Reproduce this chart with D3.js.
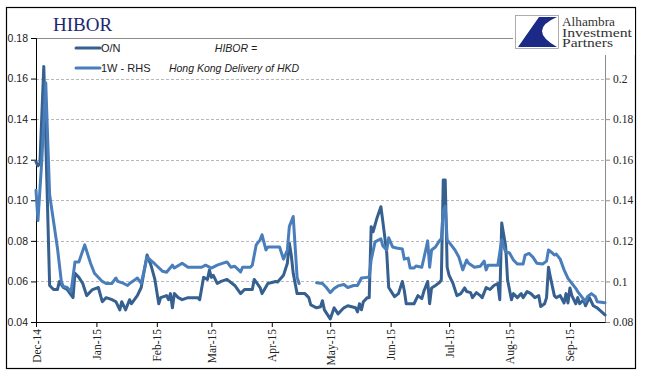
<!DOCTYPE html>
<html><head><meta charset="utf-8">
<script src="https://cdn.jsdelivr.net/npm/d3@7"></script>
<style>body{margin:0;background:#fff}</style>
</head><body>
<svg id="c" width="645" height="379"></svg>
<script>
const onDates=["2014-12-01","2014-12-02","2014-12-03","2014-12-05","2014-12-08","2014-12-10","2014-12-12","2014-12-13","2014-12-15","2014-12-17","2014-12-20","2014-12-21","2014-12-23","2014-12-25","2014-12-27","2014-12-30",
"2015-01-02","2015-01-04","2015-01-06","2015-01-09","2015-01-11","2015-01-13","2015-01-14","2015-01-16","2015-01-18","2015-01-19","2015-01-22","2015-01-24","2015-01-27","2015-01-29","2015-01-31",
"2015-02-02","2015-02-03","2015-02-06","2015-02-07","2015-02-08","2015-02-09","2015-02-10","2015-02-12","2015-02-14","2015-02-17","2015-02-22","2015-02-23","2015-02-25","2015-02-27","2015-02-28",
"2015-03-01","2015-03-02","2015-03-04","2015-03-06","2015-03-09","2015-03-13","2015-03-16","2015-03-18","2015-03-22","2015-03-23","2015-03-26","2015-03-27","2015-03-30",
"2015-04-03","2015-04-04","2015-04-07","2015-04-09","2015-04-10","2015-04-11","2015-04-12","2015-04-14","2015-04-16","2015-04-18","2015-04-20","2015-04-21","2015-04-24","2015-04-26","2015-04-27","2015-04-28","2015-04-30",
"2015-05-01","2015-05-03","2015-05-05","2015-05-07","2015-05-08","2015-05-10","2015-05-12","2015-05-14","2015-05-15","2015-05-16","2015-05-17","2015-05-18","2015-05-20","2015-05-21","2015-05-22","2015-05-23","2015-05-25","2015-05-27","2015-05-28","2015-05-30","2015-05-31",
"2015-06-02","2015-06-03","2015-06-05","2015-06-07","2015-06-08","2015-06-09","2015-06-12","2015-06-13","2015-06-15","2015-06-17","2015-06-18","2015-06-20","2015-06-21","2015-06-22","2015-06-24","2015-06-26","2015-06-27","2015-06-28","2015-06-29","2015-06-30",
"2015-07-01","2015-07-03","2015-07-05","2015-07-07","2015-07-09","2015-07-10","2015-07-12","2015-07-13","2015-07-15","2015-07-17","2015-07-18","2015-07-20","2015-07-22","2015-07-24","2015-07-26","2015-07-27","2015-07-28","2015-07-30","2015-07-31",
"2015-08-02","2015-08-03","2015-08-05","2015-08-07","2015-08-08","2015-08-10","2015-08-12","2015-08-14","2015-08-16","2015-08-17","2015-08-19","2015-08-20","2015-08-21","2015-08-22","2015-08-24","2015-08-25","2015-08-27","2015-08-29","2015-08-30","2015-08-31",
"2015-09-01","2015-09-02","2015-09-04","2015-09-05","2015-09-06","2015-09-08","2015-09-09","2015-09-10","2015-09-11","2015-09-13","2015-09-15","2015-09-19"];
const onValues=[0.119,0.117,0.118,0.166,0.058,0.056,0.056,0.060,0.057,0.056,0.052,0.064,0.062,0.059,0.053,0.056,
0.057,0.050,0.052,0.051,0.050,0.046,0.050,0.046,0.051,0.049,0.053,0.057,0.073,0.068,0.061,
0.049,0.052,0.053,0.051,0.054,0.047,0.054,0.052,0.051,0.052,0.052,0.051,0.062,0.061,0.0656,
0.062,0.063,0.059,0.060,0.061,0.058,0.054,0.056,0.056,0.061,0.057,0.054,0.059,
0.060,0.0597,0.063,0.069,0.079,0.073,0.064,0.054,0.054,0.054,0.052,0.0484,0.047,0.0475,0.0505,0.046,0.043,
0.0415,0.047,0.044,0.046,0.047,0.048,0.0475,0.047,0.045,0.049,0.046,0.050,0.052,0.052,0.087,0.0845,0.0913,0.0968,0.0895,0.074,0.057,
0.054,0.0525,0.054,0.060,0.0555,0.049,0.049,0.049,0.053,0.0515,0.055,0.060,0.049,0.0568,0.058,0.0594,0.0607,0.110,0.110,0.067,
0.063,0.059,0.053,0.054,0.0568,0.055,0.0545,0.052,0.0545,0.053,0.052,0.057,0.056,0.058,0.059,0.051,0.0888,0.0775,0.0607,
0.051,0.054,0.052,0.054,0.052,0.055,0.054,0.052,0.053,0.0476,0.049,0.052,0.067,0.062,0.053,0.052,0.053,0.0494,0.054,0.0494,
0.0568,0.053,0.049,0.052,0.049,0.051,0.048,0.050,0.052,0.048,0.047,0.0435];

const w1Dates=["2014-12-01","2014-12-02","2014-12-04","2014-12-06","2014-12-08","2014-12-12","2014-12-14","2014-12-15","2014-12-17","2014-12-19","2014-12-21","2014-12-23","2014-12-26","2014-12-29","2014-12-31",
"2015-01-04","2015-01-06","2015-01-09","2015-01-11","2015-01-12","2015-01-15","2015-01-17","2015-01-18","2015-01-21","2015-01-22","2015-01-24","2015-01-27","2015-01-31",
"2015-02-04","2015-02-06","2015-02-09","2015-02-10","2015-02-14","2015-02-17","2015-02-21","2015-02-24","2015-02-26",
"2015-03-01","2015-03-04","2015-03-07","2015-03-09","2015-03-11","2015-03-13","2015-03-16","2015-03-17","2015-03-21","2015-03-22","2015-03-24","2015-03-26","2015-03-27","2015-03-29","2015-03-30",
"2015-04-03","2015-04-05","2015-04-07","2015-04-09","2015-04-10","2015-04-12","2015-04-13","2015-04-14","2015-04-15","2015-04-20","2015-04-24","2015-04-27","2015-04-29",
"2015-05-01","2015-05-03","2015-05-05","2015-05-08","2015-05-10","2015-05-13","2015-05-15","2015-05-17","2015-05-20","2015-05-21","2015-05-22","2015-05-24","2015-05-27","2015-05-28","2015-05-30","2015-05-31",
"2015-06-02","2015-06-04","2015-06-07","2015-06-08","2015-06-10","2015-06-11","2015-06-13","2015-06-14","2015-06-17","2015-06-19","2015-06-20","2015-06-21","2015-06-22","2015-06-24","2015-06-26","2015-06-27","2015-06-28","2015-06-29","2015-06-30",
"2015-07-02","2015-07-04","2015-07-06","2015-07-08","2015-07-10","2015-07-11","2015-07-14","2015-07-17","2015-07-19","2015-07-20","2015-07-21","2015-07-24","2015-07-26","2015-07-28","2015-07-29","2015-07-30",
"2015-08-01","2015-08-03","2015-08-05","2015-08-08","2015-08-09","2015-08-11","2015-08-13","2015-08-15","2015-08-18","2015-08-20","2015-08-21","2015-08-23","2015-08-24","2015-08-25","2015-08-27","2015-08-29","2015-08-31",
"2015-09-02","2015-09-04","2015-09-05","2015-09-07","2015-09-09","2015-09-10","2015-09-12","2015-09-14","2015-09-15","2015-09-19"];
const w1Values=[0.145,0.130,0.160,0.198,0.1427,0.1165,0.100,0.0975,0.097,0.095,0.1096,0.1096,0.118,0.109,0.104,
0.100,0.099,0.099,0.1017,0.100,0.099,0.098,0.099,0.101,0.1017,0.099,0.112,0.1086,
0.105,0.1045,0.108,0.1066,0.109,0.107,0.107,0.107,0.108,
0.1066,0.108,0.109,0.1096,0.107,0.1075,0.1047,0.107,0.107,0.108,0.118,0.1205,0.123,0.1155,0.117,
0.117,0.117,0.111,0.1155,0.127,0.132,0.117,0.102,0.099,null,0.0994,0.099,0.097,
0.0945,0.0965,0.0978,0.0985,0.097,0.098,0.098,0.1017,0.102,0.102,0.1106,0.1195,0.121,0.1175,0.1155,0.1215,
0.117,0.1165,0.116,0.111,0.1115,0.1066,0.1066,0.1076,0.107,0.1155,0.120,0.107,0.1155,0.117,0.120,0.121,0.135,0.137,0.1205,
0.118,0.1155,0.112,0.1057,0.1106,0.109,0.107,0.1075,0.110,0.1057,0.108,0.108,0.108,0.1205,0.117,0.1147,
0.114,0.1106,0.1086,0.1086,0.113,0.1138,0.112,0.109,0.1086,0.110,0.1155,0.114,0.113,0.1135,0.111,0.1057,0.1015,
0.099,0.0966,0.095,0.0925,0.090,0.0925,0.094,0.0925,0.090,0.0895];

const leftTicks=[0.04,0.06,0.08,0.10,0.12,0.14,0.16,0.18];
const leftTickLabels=["0.04","0.06","0.08","0.10","0.12","0.14","0.16","0.18"];
const rightTicks=[0.08,0.10,0.12,0.14,0.16,0.18,0.20];
const rightTickLabels=["0.08","0.1","0.12","0.14","0.16","0.18","0.2"];
const monthTicks=["2014-12-01","2015-01-01","2015-02-01","2015-03-01","2015-04-01","2015-05-01","2015-06-01","2015-07-01","2015-08-01","2015-09-01"];
const monthLabels=["Dec-14","Jan-15","Feb-15","Mar-15","Apr-15","May-15","Jun-15","Jul-15","Aug-15","Sep-15"];
const seriesNames=["O/N","1W - RHS"];
const seriesColors=["#35608f","#4a7ebb"];
const logoLines=["Alhambra","Investment","Partners"];

const parse=d3.timeParse("%Y-%m-%d");
const svg=d3.select("#c");
const L=36,R=605,T=38,B=322;
const x=d3.scaleTime().domain([parse("2014-12-01"),parse("2015-09-19")]).range([L,R]);
const yL=d3.scaleLinear().domain([0.04,0.18]).range([B,T]);
const yR=d3.scaleLinear().domain([0.08,0.22]).range([B,T]);

svg.append("rect").attr("x",6.5).attr("y",7.5).attr("width",629).attr("height",361)
  .attr("fill","#fff").attr("stroke","#000").attr("stroke-width",1.2);

svg.append("g").selectAll("line").data(leftTicks.filter(v=>v>0.04&&v<0.18)).join("line")
  .attr("x1",L).attr("x2",R).attr("y1",d=>Math.round(yL(d))+0.5).attr("y2",d=>Math.round(yL(d))+0.5)
  .attr("stroke","#b8b8b8").attr("stroke-dasharray","3,2").attr("stroke-width",1);
svg.append("line").attr("x1",L).attr("x2",R).attr("y1",T+0.5).attr("y2",T+0.5).attr("stroke","#8c8c8c");

const gl=svg.append("g").attr("transform",`translate(${L},0)`)
  .call(d3.axisLeft(yL).tickValues(leftTicks).tickFormat((d,i)=>leftTickLabels[i]).tickSize(5).tickPadding(3));
gl.select(".domain").attr("stroke","#000");
gl.selectAll(".tick line").attr("stroke","#000");
gl.selectAll("text").attr("font-family","Liberation Sans, Arial, sans-serif").attr("font-size","10.5px").attr("fill","#222");

const gr=svg.append("g").attr("transform",`translate(${R},0)`)
  .call(d3.axisRight(yR).tickValues(rightTicks).tickFormat((d,i)=>rightTickLabels[i]).tickSize(5).tickPadding(3));
gr.select(".domain").attr("stroke","#8c8c8c");
gr.selectAll(".tick line").attr("stroke","#8c8c8c");
gr.selectAll("text").attr("font-family","Liberation Serif, Times New Roman, serif").attr("font-size","11.5px").attr("fill","#222");

const gb=svg.append("g").attr("transform",`translate(0,${B})`)
  .call(d3.axisBottom(x).tickValues(monthTicks.map(parse)).tickFormat((d,i)=>monthLabels[i]).tickSize(5).tickSizeOuter(0));
gb.select(".domain").attr("stroke","#000");
gb.selectAll(".tick line").attr("stroke","#000");
gb.selectAll("text").attr("font-family","Liberation Serif, Times New Roman, serif").attr("font-size","11.5px").attr("fill","#222")
  .attr("transform","rotate(-90)").attr("text-anchor","end").attr("x",-7).attr("y",0).attr("dy","0.35em");

const onData=onDates.map((d,i)=>({d:parse(d),v:onValues[i]}));
const w1Data=w1Dates.map((d,i)=>({d:parse(d),v:w1Values[i]}));
const lineL=d3.line().defined(p=>p.v!=null).x(p=>x(p.d)).y(p=>yL(p.v));
const lineR=d3.line().defined(p=>p.v!=null).x(p=>x(p.d)).y(p=>yR(p.v));
svg.append("path").datum(onData).attr("d",lineL).attr("fill","none").attr("stroke",seriesColors[0])
  .attr("stroke-width",3).attr("stroke-linejoin","round").attr("stroke-linecap","round");
svg.append("path").datum(w1Data).attr("d",lineR).attr("fill","none").attr("stroke",seriesColors[1])
  .attr("stroke-width",3).attr("stroke-linejoin","round").attr("stroke-linecap","round");

const leg=svg.append("g");
seriesNames.forEach((n,i)=>{
  const yy=48+i*20;
  leg.append("line").attr("x1",76).attr("x2",100).attr("y1",yy).attr("y2",yy)
    .attr("stroke",seriesColors[i]).attr("stroke-width",3).attr("stroke-linecap","round");
  leg.append("text").attr("x",101).attr("y",yy+4).text(n)
    .attr("font-family","Liberation Sans, Arial, sans-serif").attr("font-size","11px").attr("fill","#222");
});

svg.append("text").attr("x",236).attr("y",52).attr("text-anchor","middle").text("HIBOR =")
  .attr("font-family","Liberation Sans, Arial, sans-serif").attr("font-style","italic").attr("font-size","10.5px").attr("fill","#222");
svg.append("text").attr("x",234).attr("y",72).attr("text-anchor","middle").text("Hong Kong Delivery of HKD")
  .attr("font-family","Liberation Sans, Arial, sans-serif").attr("font-style","italic").attr("font-size","10.5px").attr("fill","#222");

svg.append("text").attr("x",53).attr("y",31).text("HIBOR")
  .attr("font-family","Liberation Serif, Times New Roman, serif").attr("font-size","19px").attr("fill","#1c2670");

const lg=svg.append("g");
lg.append("rect").attr("x",513).attr("y",9).attr("width",122).attr("height",46).attr("fill","#fff");
lg.append("rect").attr("x",515.5).attr("y",15.5).attr("width",43).attr("height",33).attr("fill","#fff").attr("stroke","#999").attr("stroke-width",0.8);
lg.append("path").attr("d","M539,17 L557,17 Q527,30 557,47 L518,47 Z").attr("fill","#1a2a86");
const logoW=[53,70,51];
logoLines.forEach((t,i)=>{
  lg.append("text").attr("x",562).attr("y",26+i*10.5).text(t)
    .attr("textLength",logoW[i]).attr("lengthAdjust","spacingAndGlyphs")
    .attr("font-family","Liberation Serif, Times New Roman, serif").attr("font-size","11.5px").attr("fill","#333");
});
</script>
</body></html>
